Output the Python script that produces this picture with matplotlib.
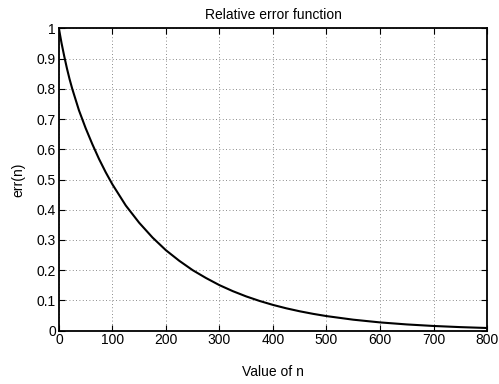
import matplotlib
matplotlib.use("Agg")
import matplotlib.pyplot as plt

# values
n_vals = [0, 5, 10, 15, 20, 25, 37.5, 50, 62.5, 75, 87.5, 100, 125, 150, 175,
          200, 225, 250, 275, 300, 325, 350, 375, 400, 425, 450, 475, 500,
          550, 600, 650, 700, 750, 800]
err_vals = [1.0, 0.951, 0.908, 0.868, 0.832, 0.800, 0.729, 0.670, 0.617,
            0.568, 0.524, 0.484, 0.414, 0.357, 0.308, 0.266, 0.231, 0.200,
            0.174, 0.1505, 0.1306, 0.1132, 0.0982, 0.0851, 0.0738, 0.0640,
            0.0555, 0.0481, 0.0362, 0.0272, 0.0205, 0.0154, 0.0116, 0.0087]

x_ticks = [0, 100, 200, 300, 400, 500, 600, 700, 800]
y_ticks = [0, 0.1, 0.2, 0.3, 0.4, 0.5, 0.6, 0.7, 0.8, 0.9, 1]

plt.rcParams.update({
    "font.family": ["Liberation Sans", "DejaVu Sans"],
    "font.size": 10,
})

fig = plt.figure(figsize=(4.99, 3.84), dpi=100)
ax = fig.add_axes([0.118, 0.139, 0.858, 0.787])

ax.plot(n_vals, err_vals, color="black", lw=1.5, zorder=3)

ax.set_xlim(0, 800)
ax.set_ylim(0, 1)
ax.set_xticks(x_ticks)
ax.set_yticks(y_ticks)
ax.set_yticklabels([f"{v:g}" for v in y_ticks])
ax.tick_params(direction="in", length=4, width=0.8, top=True, right=True,
               labelsize=10, pad=2)
ax.grid(True, color="0.4", lw=0.6, ls=(0, (1, 3)))
for s in ax.spines.values():
    s.set_linewidth(1.3)

ax.set_title("Relative error function", fontsize=10, pad=7)
ax.set_xlabel("Value of n", labelpad=13)
ax.set_ylabel("err(n)", labelpad=8)

fig.savefig("out.png", dpi=100)
